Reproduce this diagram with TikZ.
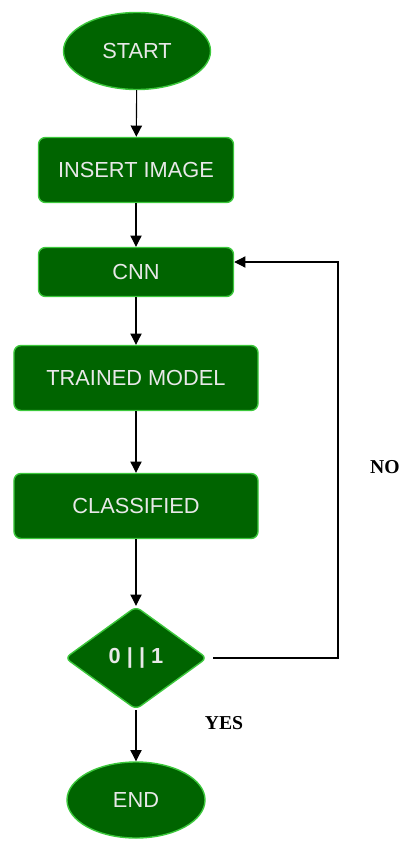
\documentclass[tikz,border=0pt]{standalone}
\usepackage{fontspec}
\setmainfont{Liberation Sans}
\newfontfamily\serifword{Liberation Serif}
\usetikzlibrary{shapes.geometric,arrows.meta}
\definecolor{boxgreen}{HTML}{006400}
\definecolor{rimgreen}{HTML}{3CC83C}
\definecolor{boxtext}{HTML}{E8E8E8}
\begin{document}
\begin{tikzpicture}[x=0.025cm, y=-0.025cm, >={Triangle[length=8pt,width=8pt]}, line width=0.8pt,
	main/.style = {draw=rimgreen, line width=1pt, fill=boxgreen, text=boxtext, inner sep=0pt, font=\fontsize{15.5}{18}\selectfont},
	term/.style = {main, ellipse},
	box/.style = {main, rectangle, rounded corners=5pt, minimum width=#1},
	box/.default = 4.875cm,
	test/.style = {main, diamond, rounded corners=4pt, minimum width=3.55cm, minimum height=2.575cm},
	answer/.style = {font=\serifword\bfseries\fontsize{14}{16}\selectfont}]
	\useasboundingbox (0,0) rectangle (406,841);
	\node[term, minimum width=3.675cm, minimum height=1.925cm] (1) at (137,51) {START};
	\node[box, minimum height=1.625cm] (2) at (136,170) {INSERT IMAGE};
	\node[box, minimum height=1.225cm] (3) at (136,272) {CNN};
	\node[box=6.1cm, minimum height=1.625cm] (4) at (136,378) {TRAINED MODEL};
	\node[box=6.1cm, minimum height=1.625cm] (5) at (136,506) {CLASSIFIED};
	\node[test] (6) at (136,658) {\bfseries 0 | | 1};
	\node[term, minimum width=3.45cm, minimum height=1.9cm] (7) at (136,800) {END};
	
	\node[answer] (no) at (385,467) {NO};
	\node[answer] (yes) at (224,723) {YES};
	\coordinate (loop) at (338,262);
	
		\draw[->] (1) -- (2);
		\draw[->] (2) -- (3);
		\draw[->] (3) -- (4);
		\draw[->] (4) -- (5);
		\draw[->] (5) -- (6);
		\draw[->] (6) -- (7);
		\draw[->, shorten <=4pt] (6.east) -| (loop) -- (3.east |- loop);
		
\end{tikzpicture}
\end{document}
